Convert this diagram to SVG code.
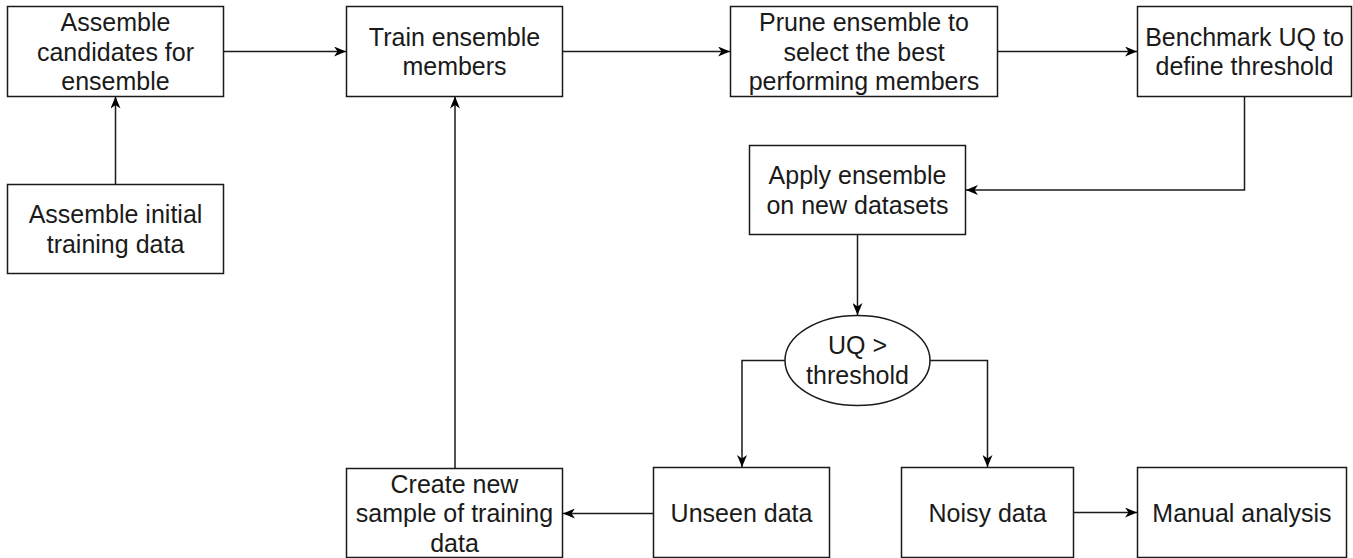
<svg xmlns="http://www.w3.org/2000/svg" width="1353" height="558" viewBox="0 0 1353 558">
<style>
.box{fill:#fff;stroke:#1a1a1a;stroke-width:1.5}
.t{font-family:"Liberation Sans",Arial,sans-serif;font-size:25px;fill:#1a1a1a;text-anchor:middle}
.c{fill:none;stroke:#1a1a1a;stroke-width:1.5;marker-end:url(#ah)}
</style>
<defs>
<marker id="ah" viewBox="0 0 12 10" refX="12" refY="5" markerWidth="12" markerHeight="10" markerUnits="userSpaceOnUse" orient="auto">
<path d="M0,0 L12,5 L0,10 L3.5,5 Z" fill="#000"/>
</marker>
</defs>
<rect x="0" y="0" width="1353" height="558" fill="#fff"/>
<g id="connectors">
<path class="c" d="M223,51.5 H346"/>
<path class="c" d="M562,51.5 H730"/>
<path class="c" d="M998,51.5 H1137"/>
<path class="c" d="M115.5,184 V96.5"/>
<path class="c" d="M1244.5,97 V190 H966"/>
<path class="c" d="M857.5,234 V315"/>
<path class="c" d="M785,360.5 H742 V467"/>
<path class="c" d="M930,360.5 H987.5 V467"/>
<path class="c" d="M653,513.5 H563"/>
<path class="c" d="M455,468 V96.5"/>
<path class="c" d="M1074,512.5 H1137"/>
</g>
<g id="n1"><rect class="box" x="7.5" y="6.5" width="216" height="90"/>
<text class="t" x="115.5" y="31">Assemble</text><text class="t" x="115.5" y="60.5">candidates for</text><text class="t" x="115.5" y="90">ensemble</text></g>
<g id="n2"><rect class="box" x="346.5" y="6.5" width="216" height="90"/>
<text class="t" x="454.5" y="45.5">Train ensemble</text><text class="t" x="454.5" y="75">members</text></g>
<g id="n3"><rect class="box" x="730.5" y="6.5" width="267" height="90"/>
<text class="t" x="864" y="31">Prune ensemble to</text><text class="t" x="864" y="60.5">select the best</text><text class="t" x="864" y="90">performing members</text></g>
<g id="n4"><rect class="box" x="1137.5" y="6.5" width="214" height="90"/>
<text class="t" x="1244.5" y="45.5">Benchmark UQ to</text><text class="t" x="1244.5" y="75">define threshold</text></g>
<g id="n5"><rect class="box" x="7.5" y="184.5" width="216" height="89"/>
<text class="t" x="115.5" y="223">Assemble initial</text><text class="t" x="115.5" y="252.5">training data</text></g>
<g id="n6"><rect class="box" x="749.5" y="145.5" width="216" height="89"/>
<text class="t" x="857.5" y="184">Apply ensemble</text><text class="t" x="857.5" y="213.5">on new datasets</text></g>
<g id="n7"><ellipse class="box" cx="857.5" cy="360.5" rx="72.5" ry="45"/>
<text class="t" x="857.5" y="354">UQ &gt;</text><text class="t" x="857.5" y="383.5">threshold</text></g>
<g id="n8"><rect class="box" x="346.5" y="468.5" width="216" height="89"/>
<text class="t" x="454.5" y="492.5">Create new</text><text class="t" x="454.5" y="522">sample of training</text><text class="t" x="454.5" y="551.5">data</text></g>
<g id="n9"><rect class="box" x="653.5" y="467.5" width="176" height="90"/>
<text class="t" x="741.5" y="521.5">Unseen data</text></g>
<g id="n10"><rect class="box" x="901.5" y="467.5" width="172" height="90"/>
<text class="t" x="987.5" y="521.5">Noisy data</text></g>
<g id="n11"><rect class="box" x="1137.5" y="467.5" width="209" height="90"/>
<text class="t" x="1242" y="521.5">Manual analysis</text></g>
</svg>
